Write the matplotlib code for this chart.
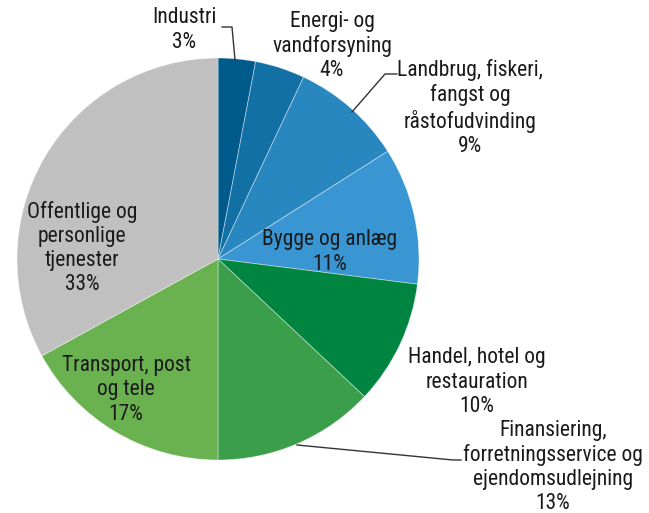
import matplotlib
matplotlib.use("Agg")
import matplotlib.pyplot as plt
from matplotlib import font_manager as fm

categories = ["Industri", "Energi- og\nvandforsyning", "Landbrug, fiskeri,\nfangst og\nråstofudvinding",
              "Bygge og anlæg", "Handel, hotel og\nrestauration",
              "Finansiering,\nforretningsservice og\nejendomsudlejning",
              "Transport, post\nog tele", "Offentlige og\npersonlige\ntjenester"]
shares = [3, 4, 9, 11, 10, 13, 17, 33]
colors = ["#005a8c", "#1370a5", "#2887be", "#3a96d2", "#008540", "#3a9e4a", "#6ab250", "#c0c0c0"]

# pick a condensed font if one is installed
names = {f.name for f in fm.fontManager.ttflist}
font_kw = dict(family=['Liberation Sans', 'DejaVu Sans'], fontsize=14)
if 'Roboto Condensed' in names:
    font_kw = dict(family=['Roboto Condensed', 'DejaVu Sans'], fontsize=15.5)
elif 'Liberation Sans Narrow' in names:
    font_kw = dict(family=['Liberation Sans Narrow', 'DejaVu Sans'], fontsize=15.5)

W, H = 649, 513
fig = plt.figure(figsize=(W / 100, H / 100), dpi=100)
ax = fig.add_axes([0, 0, 1, 1])

cx, cy, r = 218, H - 259, 201
ax.pie(shares, colors=colors, startangle=90, counterclock=False, center=(cx, cy), radius=r,
       wedgeprops=dict(edgecolor=(1, 1, 1, 0.45), linewidth=0.6), frame=True)
ax.set_xlim(0, W)
ax.set_ylim(0, H)
ax.set_aspect('equal')
ax.axis('off')

labels = [f"{c}\n{s}%" for c, s in zip(categories, shares)]
# label centers in pixel coords (x, y from top)
pos = [(184, 30), (332, 46), (470, 108), (330, 252), (477, 382), (553, 467), (126, 390), (82, 248)]
for lab, (x, y) in zip(labels, pos):
    ax.text(x, H - y, lab, ha='center', va='center', color='#1a1a1a', linespacing=1.2, **font_kw)

# leader lines
leaders = [
    [(222, 27), (232, 27), (235, 60)],
    [(397, 74), (385, 74), (352, 112)],
    [(297, 445), (453, 460), (461, 460)],
]
for pts in leaders:
    xs = [p[0] for p in pts]
    ys = [H - p[1] for p in pts]
    ax.plot(xs, ys, color='#333333', lw=1)

fig.savefig("out.png", dpi=100)
